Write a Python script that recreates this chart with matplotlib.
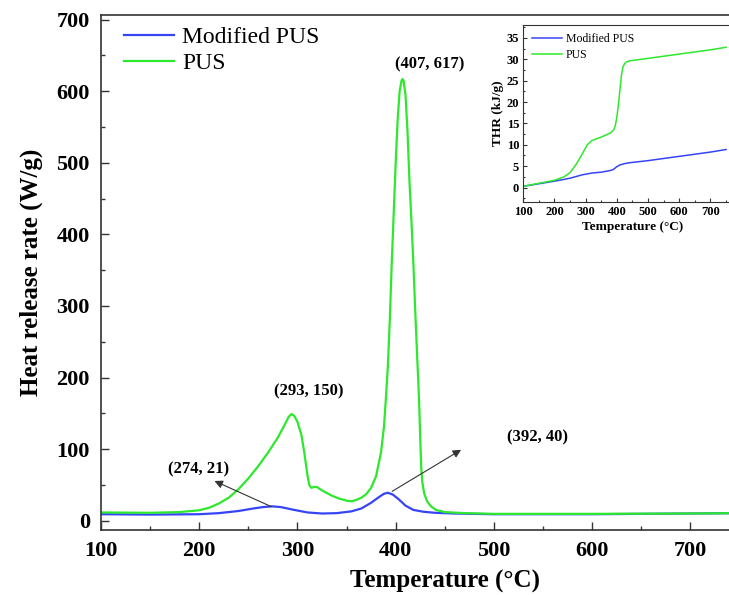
import numpy as np
import matplotlib
matplotlib.use('Agg')
import matplotlib.pyplot as plt
from matplotlib.ticker import MultipleLocator, FixedLocator

# 热释放速率数据
pus_T = [100, 150, 180, 200, 210, 220, 230, 240, 250, 260, 270, 280, 287, 291, 294, 297,
         300, 304, 307, 310, 312, 314, 317, 320, 323, 328, 335, 342, 350, 355, 360, 365,
         370, 375, 380, 385, 388, 390, 392, 394, 396, 398, 400, 402, 404, 406, 407, 408,
         410, 412, 414, 416, 418, 420, 422, 423, 424, 425, 426, 427, 429, 432, 436, 441,
         450, 470, 500, 600, 700, 750]
pus_hrr = [11.5, 11, 12, 14.5, 18, 24, 32, 44, 59, 76, 95, 116, 134, 145, 149, 146,
           138, 120, 95, 65, 50, 46, 47, 47, 44, 40, 35, 31, 28, 27, 29, 32,
           37, 46, 62, 95, 130, 170, 215, 280, 360, 430, 500, 560, 600, 615, 617, 615,
           595, 545, 475, 420, 360, 290, 225, 195, 160, 115, 75, 55, 38, 27, 20, 15,
           12, 10.5, 9.5, 9.5, 10, 10.5]
mod_T = [100, 150, 200, 220, 240, 255, 265, 274, 283, 295, 310, 325, 340, 355, 365, 375,
         383, 388, 392, 397, 403, 410, 418, 428, 440, 460, 500, 600, 700, 750]
mod_hrr = [9, 8.5, 9, 10.5, 13.5, 17, 19, 20, 19, 15.5, 11.5, 10, 10.5, 13, 17, 25,
           33, 37.5, 39, 36.5, 30, 21, 15, 12.5, 11, 10, 9, 9, 10, 10.5]

# 总热释放数据 (插图)
thr_T = [100, 150, 200, 230, 250, 270, 290, 305, 320, 350, 380, 390, 395, 400, 405, 410,
         415, 420, 425, 432, 440, 500, 600, 700, 750]
pus_thr = [0.3, 1.0, 1.7, 2.5, 3.5, 5.5, 8.0, 10.0, 11.0, 11.8, 12.8, 13.5, 14.5, 16.5, 19.5, 23.0,
           26.5, 28.3, 29.0, 29.4, 29.6, 30.2, 31.2, 32.2, 32.8]
mod_thr = [0.3, 0.9, 1.5, 1.9, 2.2, 2.6, 3.0, 3.2, 3.4, 3.6, 4.0, 4.3, 4.6, 4.9, 5.1, 5.3,
           5.4, 5.5, 5.6, 5.7, 5.8, 6.3, 7.3, 8.3, 8.9]

# 标注
peaks = ['(274, 21)', '(293, 150)', '(407, 617)', '(392, 40)']
peak_xy = [(199, 72), (312, 180), (435, 637), (544, 116)]

blue = '#3545f5'
green = '#2ee82e'
spine_c = '#333333'

plt.rcParams['font.family'] = ['Liberation Serif', 'DejaVu Serif']

fig = plt.figure(figsize=(7.29, 5.95), dpi=100)
ax = fig.add_axes([0.1385, 0.1093, 0.9433, 0.866])
ax.plot(mod_T, mod_hrr, color=blue, lw=1.6, label='Modified PUS')
ax.plot(pus_T, pus_hrr, color=green, lw=1.6, label='PUS')
ax.set_xlim(100, 800)
ax.set_ylim(-13, 707)
ax.xaxis.set_major_locator(FixedLocator(range(100, 701, 100)))
ax.xaxis.set_minor_locator(FixedLocator(range(150, 751, 100)))
ax.yaxis.set_major_locator(MultipleLocator(100))
ax.yaxis.set_minor_locator(MultipleLocator(50))
ax.tick_params(which='both', direction='in', colors=spine_c, width=1.0, labelcolor='black')
ax.tick_params(which='major', length=6, labelsize=16, pad=8)
ax.tick_params(which='minor', length=3)
for lab in ax.get_xticklabels() + ax.get_yticklabels():
    lab.set_fontweight('bold')
for s in ax.spines.values():
    s.set_color(spine_c)
    s.set_linewidth(1.2)
ax.set_xlabel('Temperature (°C)', fontsize=18, fontweight='bold', labelpad=6)
ax.set_ylabel('Heat release rate (W/g)', fontsize=18, fontweight='bold', labelpad=10)
ax.legend(loc='upper left', frameon=False, fontsize=17, handlelength=2.1,
          borderaxespad=0.2, labelspacing=0.2, handletextpad=0.35, bbox_to_anchor=(0.013, 1.005))

for txt, (x, y) in zip(peaks, peak_xy):
    ax.text(x, y, txt, ha='center', va='center', fontsize=12, fontweight='bold')
ax.annotate('', xy=(213, 57), xytext=(276, 18),
            arrowprops=dict(arrowstyle='-|>', color=spine_c, lw=0.8, mutation_scale=12))
ax.annotate('', xy=(469, 101), xytext=(394, 39),
            arrowprops=dict(arrowstyle='-|>', color=spine_c, lw=0.8, mutation_scale=12))

# 插图
ins = fig.add_axes([0.7178, 0.661, 0.2996, 0.297])
ins.plot(thr_T, mod_thr, color=blue, lw=1.1, label='Modified PUS')
ins.plot(thr_T, pus_thr, color=green, lw=1.1, label='PUS')
ins.set_xlim(100, 800)
ins.set_ylim(-3.3, 38)
ins.xaxis.set_major_locator(FixedLocator(range(100, 701, 100)))
ins.xaxis.set_minor_locator(FixedLocator(range(150, 751, 100)))
ins.yaxis.set_major_locator(MultipleLocator(5))
ins.yaxis.set_minor_locator(MultipleLocator(2.5))
ins.tick_params(which='both', direction='in', colors=spine_c, width=0.8, labelcolor='black')
ins.tick_params(which='major', length=3, labelsize=9, pad=3)
ins.tick_params(which='minor', length=1.5)
for lab in ins.get_xticklabels() + ins.get_yticklabels():
    lab.set_fontweight('bold')
for s in ins.spines.values():
    s.set_color(spine_c)
    s.set_linewidth(0.8)
ins.set_xlabel('Temperature (°C)', fontsize=9.5, fontweight='bold', labelpad=2)
ins.set_ylabel('THR (kJ/g)', fontsize=9.5, fontweight='bold', labelpad=2)
ins.legend(loc='upper left', frameon=False, fontsize=8.5, handlelength=2.6,
           borderaxespad=0.3, labelspacing=0.3, handletextpad=0.3)

fig.savefig('out.png', dpi=100)
